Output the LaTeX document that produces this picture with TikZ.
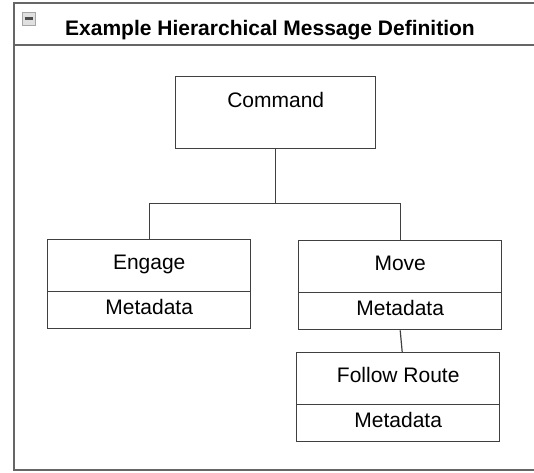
\documentclass[tikz,border=0pt]{standalone}
\usepackage{fontspec}
\setmainfont{Liberation Sans}
\usetikzlibrary{positioning}

\tikzset{
  msgbox/.style={draw=black!75, line width=1.4pt, fill=white, inner sep=0pt, minimum width=203pt, font=\fontsize{21}{25}\selectfont},
  msgname/.style={msgbox, text height=30pt, text depth=22pt},
  metabox/.style={msgbox, text height=23pt, text depth=14pt},
  link/.style={draw=black!75, line width=1.2pt}
}

\begin{document}
\begin{tikzpicture}[x=1pt, y=-1pt]
  \useasboundingbox (0,0) rectangle (534,472);

  % Outer frame and title bar
  \draw[black!60, line width=2pt] (560,3) -- (14,3) -- (14,470) -- (560,470);
  \draw[black!60, line width=2pt] (14,45) -- (560,45);

  % Collapse icon
  \node[draw=black!35, fill=black!12, minimum size=13pt, inner sep=0pt, anchor=north west] (collapse) at (22,12) {};
  \draw[black!70, line width=3pt] ([xshift=2.5pt]collapse.west) -- ([xshift=-2.5pt]collapse.east);

  % Title
  \node[anchor=base west, inner sep=0pt, font=\fontsize{21}{25}\selectfont\bfseries] (title) at (65,35) {Example Hierarchical Message Definition};

  % Root message
  \node[msgbox, minimum width=200pt, text height=31pt, text depth=41pt, anchor=north west] (command) at (175,76) {Command};

  % Child messages
  \node[msgname, anchor=north west] (engage) at (47,239) {Engage};
  \node[metabox, below=-1.4pt of engage] (engagemeta) {Metadata};

  \node[msgname, anchor=north west] (move) at (298,240) {Move};
  \node[metabox, below=-1.4pt of move] (movemeta) {Metadata};

  \node[msgname, anchor=north west] (follow) at (296,352) {Follow Route};
  \node[metabox, below=-1.4pt of follow] (followmeta) {Metadata};

  % Connectors
  \path (command.south) ++(0,54) coordinate (fork);
  \draw[link] (command.south) -- (fork);
  \draw[link] (fork) -| (engage.north);
  \draw[link] (fork) -| (move.north);
  \draw[link] (movemeta.south) -- ([xshift=4pt]follow.north);
\end{tikzpicture}
\end{document}
